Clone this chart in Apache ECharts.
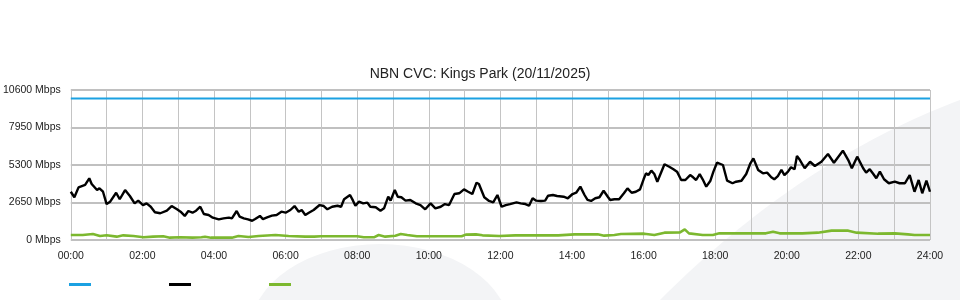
<!DOCTYPE html>
<html>
<head>
<meta charset="utf-8">
<script src="https://cdn.jsdelivr.net/npm/echarts@6/dist/echarts.min.js"></script>
<style>
html,body{margin:0;padding:0;background:#fff;}
#chart{width:960px;height:300px;}
</style>
</head>
<body>
<div id="chart"></div>
<script>
// ---- Data (minutes since 00:00, Mbps) ----
const titleText = 'NBN CVC: Kings Park (20/11/2025)';
const seriesNames = ['Capacity', 'Download', 'Upload'];
const yTicks = [0, 2650, 5300, 7950, 10600];
const xTickLabels = ['00:00','02:00','04:00','06:00','08:00','10:00','12:00','14:00','16:00','18:00','20:00','22:00','24:00'];

const capacityTimes = [0, 1440];
const capacityValues = [10000, 10000];

const downTimes = [0,6,13,15,24,31,35,44,48,54,60,66,76,82,91,99,107,113,121,127,134,141,150,161,169,178,184,191,197,204,210,217,223,231,238,248,256,265,270,278,283,290,297,304,309,317,322,329,337,345,353,360,368,375,382,387,393,399,407,410,417,424,430,438,447,453,458,468,473,477,483,490,497,502,511,519,525,532,536,543,548,554,561,569,578,586,594,603,611,620,627,634,643,651,659,666,673,680,684,693,701,708,715,722,729,736,739,747,754,762,768,774,780,788,795,800,808,815,826,833,841,847,854,861,866,872,879,886,893,900,904,911,919,927,933,940,947,954,960,964,968,973,978,983,995,1003,1010,1016,1023,1030,1038,1043,1048,1054,1059,1065,1072,1077,1083,1093,1100,1109,1115,1124,1132,1139,1144,1152,1160,1167,1174,1179,1185,1191,1196,1202,1207,1213,1217,1222,1230,1239,1247,1258,1269,1279,1294,1303,1309,1318,1328,1333,1339,1345,1350,1356,1363,1371,1381,1389,1398,1406,1414,1421,1427,1434,1440];
const downValues = [3410,3020,3720,3580,3890,4360,3960,3530,3650,3410,2540,2710,3340,2880,3530,3110,2590,2780,2470,2590,2350,1960,1890,2070,2400,2170,2000,1700,2050,1930,2070,2350,1840,1770,1580,1460,1530,1580,1530,2050,1650,1530,1460,1360,1480,1700,1480,1600,1720,1770,2000,1930,2120,2400,2000,2120,1770,1930,2120,2240,2470,2400,2170,2350,2420,2350,2880,3180,2780,2420,2710,2590,2640,2350,2310,2070,2240,3060,2780,3530,3060,3020,2780,2830,2590,2470,2170,2590,2240,2350,2540,2470,3250,3300,3580,3410,3250,4050,3960,3020,2760,2660,3180,2350,2470,2540,2420,2660,2590,2540,2420,2950,2780,2760,2780,3130,3180,3110,3060,2950,3250,3340,3770,3180,2830,2760,2950,3020,3480,3060,2830,2880,2880,3300,3650,3340,3410,3580,4290,4710,4590,4900,4660,4120,5350,5180,5000,4830,4240,4240,4590,4430,4240,4660,4290,3770,4190,4830,5460,5300,4190,4010,4120,4190,4660,5420,5770,4950,4710,4760,4430,4290,4520,4950,4590,4830,5140,5000,5940,5650,5070,5530,5230,5530,6080,5460,6310,5650,5070,5890,5070,4760,5000,4660,4360,4830,4290,4010,4120,4010,4010,4590,3410,4240,3300,4190,3410];

const upTimes = [0,20,37,49,60,77,88,105,122,138,155,166,183,204,219,225,235,270,281,298,315,343,365,393,408,419,480,491,508,516,527,544,553,564,580,613,655,662,679,690,718,745,817,844,883,894,911,922,961,978,995,1021,1029,1036,1059,1076,1087,1165,1177,1188,1226,1252,1275,1303,1317,1353,1381,1403,1414,1440];
const upValues = [353,353,424,283,330,236,330,283,190,236,260,165,190,165,190,236,165,165,283,212,283,353,283,236,236,260,260,190,190,353,236,306,424,353,260,260,260,377,400,330,283,330,330,400,400,306,353,424,447,353,518,542,754,471,353,353,471,471,589,471,471,518,660,660,518,447,471,400,353,353];

function pairs(t, v) { return t.map((x, i) => [x, v[i]]); }

// background watermark swoosh (decoration only)
function swoosh() {
  const pts = [];
  const p0 = [660, 300], c = [800, 160], p1 = [960, 100];
  for (let i = 0; i <= 40; i++) {
    const t = i / 40, u = 1 - t;
    pts.push([u*u*p0[0] + 2*u*t*c[0] + t*t*p1[0], u*u*p0[1] + 2*u*t*c[1] + t*t*p1[1]]);
  }
  pts.push([960, 300]);
  return pts;
}

const chart = echarts.init(document.getElementById('chart'), null, {renderer: 'canvas'});
const FONT = "'Liberation Sans', Arial, sans-serif";
const lineColors = ['#1ba1e2', '#000000', '#7cb82f'];

chart.setOption({
  animation: false,
  backgroundColor: '#ffffff',
  graphic: [
    { type: 'circle', z: -100, silent: true, scaleY: 88 / 130, originY: 0, x: 0, y: 332 - 332 * 88 / 130, shape: {cx: 380, cy: 332, r: 130}, style: {fill: '#f3f4f6'} },
    { type: 'polygon', z: -100, silent: true, shape: {points: swoosh()}, style: {fill: '#f3f4f6'} }
  ],
  title: {
    text: titleText,
    left: 'center',
    top: 62,
    textStyle: {fontFamily: FONT, fontSize: 14, fontWeight: 'normal', color: '#222'}
  },
  legend: {
    left: 64,
    top: 278,
    icon: 'rect',
    itemWidth: 22,
    itemHeight: 3,
    itemGap: 78,
    formatter: () => '',
    data: seriesNames
  },
  grid: {left: 70, right: 30, top: 90, bottom: 60, containLabel: false},
  xAxis: {
    type: 'value',
    min: 0,
    max: 1440,
    interval: 60,
    axisLine: {show: false},
    axisTick: {show: false},
    axisLabel: {
      margin: 11,
      fontFamily: FONT,
      fontSize: 10.5,
      color: '#222',
      formatter: v => (v % 120 === 0 ? xTickLabels[v / 120] : '')
    },
    splitLine: {show: true, lineStyle: {color: '#c4c4c4', width: 1}}
  },
  yAxis: {
    type: 'value',
    min: yTicks[0],
    max: yTicks[yTicks.length - 1],
    interval: yTicks[1] - yTicks[0],
    axisLine: {show: false},
    axisTick: {show: false},
    axisLabel: {
      margin: 10,
      fontFamily: FONT,
      fontSize: 10.5,
      color: '#222',
      formatter: v => v + ' Mbps'
    },
    splitLine: {show: true, lineStyle: {color: '#c0c0c0', width: 2}}
  },
  series: [
    { name: seriesNames[0], type: 'line', data: pairs(capacityTimes, capacityValues), symbol: 'none', lineStyle: {color: lineColors[0], width: 2.2}, itemStyle: {color: lineColors[0]}, z: 3 },
    { name: seriesNames[1], type: 'line', data: pairs(downTimes, downValues), symbol: 'none', lineStyle: {color: lineColors[1], width: 2.4}, itemStyle: {color: lineColors[1]}, z: 4 },
    { name: seriesNames[2], type: 'line', data: pairs(upTimes, upValues), symbol: 'none', lineStyle: {color: lineColors[2], width: 2.6}, itemStyle: {color: lineColors[2]}, z: 3 }
  ]
});
</script>
</body>
</html>
